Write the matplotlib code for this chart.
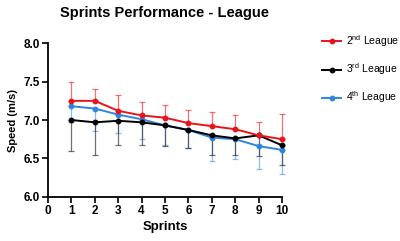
import numpy as np
import matplotlib
matplotlib.use('Agg')
import matplotlib.pyplot as plt

plt.rcParams['font.family'] = ['Liberation Sans', 'DejaVu Sans']
plt.rcParams['mathtext.fontset'] = 'custom'
plt.rcParams['mathtext.rm'] = 'Liberation Sans'

sprints = [1, 2, 3, 4, 5, 6, 7, 8, 9, 10]

# 2nd league: mean and upper SD
league2 = [7.25, 7.25, 7.12, 7.06, 7.03, 6.96, 6.92, 6.88, 6.80, 6.75]
league2_top = [7.50, 7.40, 7.33, 7.23, 7.20, 7.13, 7.10, 7.07, 6.98, 7.08]

# 3rd league: mean and lower SD
league3 = [7.00, 6.97, 6.99, 6.97, 6.93, 6.87, 6.80, 6.76, 6.80, 6.67]
league3_bot = [6.60, 6.54, 6.67, 6.67, 6.66, 6.63, 6.55, 6.55, 6.53, 6.41]

# 4th league: mean and lower SD
league4 = [7.18, 7.15, 7.07, 7.01, 6.93, 6.87, 6.77, 6.75, 6.66, 6.61]
league4_bot = [6.97, 6.86, 6.83, 6.75, 6.67, 6.64, 6.47, 6.49, 6.36, 6.29]

labels = [r'2$^{\mathrm{nd}}$ League', r'3$^{\mathrm{rd}}$ League', r'4$^{\mathrm{th}}$ League']
colors = ['#e8141c', '#000000', '#2f86e0']

fig = plt.figure(figsize=(4.0, 2.41), dpi=100)
ax = fig.add_axes([0.12, 0.184, 0.585, 0.636])

x = np.array(sprints)
# error bars (one-sided)
l4 = np.array(league4)
ax.errorbar(x, l4, yerr=[l4 - np.array(league4_bot), np.zeros(10)], fmt='none',
            ecolor=colors[2], alpha=0.55, elinewidth=0.9, capsize=2.5, capthick=0.9,
            clip_on=False, zorder=2)
l3 = np.array(league3)
ax.errorbar(x, l3, yerr=[l3 - np.array(league3_bot), np.zeros(10)], fmt='none',
            ecolor='#333333', alpha=0.7, elinewidth=0.9, capsize=2.5, capthick=0.9,
            clip_on=False, zorder=2)
l2 = np.array(league2)
ax.errorbar(x, l2, yerr=[np.zeros(10), np.array(league2_top) - l2], fmt='none',
            ecolor=colors[0], alpha=0.6, elinewidth=0.9, capsize=2.5, capthick=0.9,
            clip_on=False, zorder=2)

h4, = ax.plot(x, league4, '-o', color=colors[2], lw=1.4, ms=3.2, clip_on=False, zorder=3)
h3, = ax.plot(x, league3, '-o', color=colors[1], lw=1.4, ms=3.2, clip_on=False, zorder=4)
h2, = ax.plot(x, league2, '-o', color=colors[0], lw=1.4, ms=3.2, clip_on=False, zorder=5)

ax.set_xlim(0, 10)
ax.set_ylim(6.0, 8.0)
ax.set_xticks(range(0, 11))
ax.set_yticks([6.0, 6.5, 7.0, 7.5, 8.0])
ax.set_yticklabels(['6.0', '6.5', '7.0', '7.5', '8.0'])
ax.spines['top'].set_visible(False)
ax.spines['right'].set_visible(False)
for s in ['left', 'bottom']:
    ax.spines[s].set_linewidth(1.3)
ax.tick_params(direction='out', length=4, width=1.2, labelsize=8.5, pad=2)
for t in ax.get_xticklabels() + ax.get_yticklabels():
    t.set_fontweight('bold')

ax.set_xlabel('Sprints', fontsize=9.5, fontweight='bold', labelpad=3)
ax.set_ylabel('Speed (m/s)', fontsize=8, fontweight='bold', labelpad=4)
ax.set_title('Sprints Performance - League', fontsize=10.5, fontweight='bold', pad=19)

fig.legend([h2, h3, h4], labels, loc='upper left', bbox_to_anchor=(0.795, 0.88),
           frameon=False, fontsize=7.5, handlelength=1.8, labelspacing=1.2,
           handletextpad=0.5, borderaxespad=0)

fig.savefig('out.png', dpi=100)
